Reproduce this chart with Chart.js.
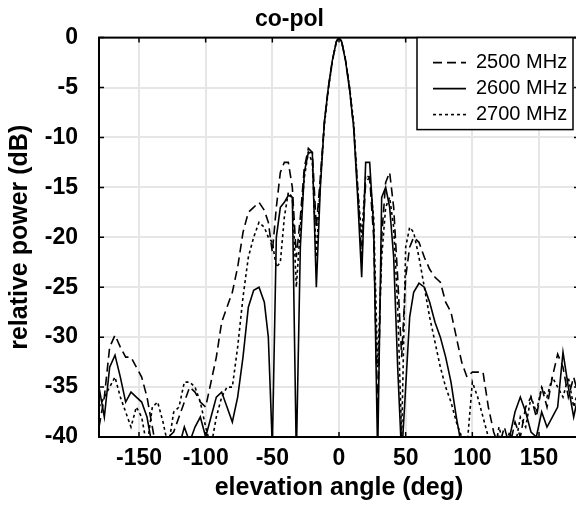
<!DOCTYPE html>
<html>
<head>
<meta charset="utf-8">
<script src="https://cdn.jsdelivr.net/npm/chart.js@4.4.0/dist/chart.umd.min.js"></script>
<style>
  html, body { margin: 0; padding: 0; background: #fff; overflow: hidden; width: 576px; height: 511px; }
  #wrap { width: 582px; height: 511px; }
</style>
</head>
<body>
<div id="wrap"><canvas id="c" width="582" height="511"></canvas></div>
<script>
// elevation angle (deg)
const angles = [-180,-176,-172,-168,-164,-160,-156,-152,-148,-144,-140,-136,-132,-128,-124,-120,-116,-112,-108,-104,-100,-96,-92,-88,-84,-80,-76,-72,-68,-64,-60,-56,
  -53,-50,-47,-44,-41,-38,-35,-32,-29,-26,-23,-20,-17,-14,-11,-8,-5,-2,
  0,
  2,5,8,11,14,17,20,23,26,29,32,35,38,41,44,47,50,53,
  56,60,64,68,72,76,80,84,88,92,96,100,104,108,112,116,120,124,128,132,136,140,144,148,152,156,160,164,168,172,176,180];

// relative power (dB)
const p2500 = [-39,-36,-31,-29.8,-31,-32,-32,-33,-34,-36,-39,-42,-41,-40,-39.5,-38,-36.5,-35,-35.5,-36.5,-37,-34.5,-32,-28.5,-27,-25.5,-23,-19.5,-17.5,-17,-16.5,-17.3,
  -18.5,-21.5,-17,-13.5,-12.5,-12.5,-15,-22,-18,-13,-11.1,-11.5,-19,-14,-8.5,-5,-2.3,-0.4,
  0,
  -0.4,-2.3,-5.2,-9,-15,-22,-14.5,-14,-20,-38,-20,-14.5,-13.5,-17,-24,-32,-24,-21,
  -20,-20.5,-22,-23.2,-24,-24.5,-26.5,-27.5,-30,-32.5,-34,-33.5,-33.5,-33.5,-37,-39.5,-41,-39,-41,-38.5,-40,-37,-36,-38,-35,-37,-34,-31.7,-33,-36,-34,-36];

const p2600 = [-35,-38,-33,-31.8,-34,-36.5,-35.5,-36,-36.5,-38,-41,-43,-44,-42,-43,-41,-39,-40.5,-39,-38,-40,-38,-36,-35.5,-37,-38.5,-36,-32,-27,-25.3,-25,-26.5,
  -30,-41,-20,-17,-16.5,-15.8,-16,-42,-21,-13.5,-11.5,-11.5,-25,-15,-8.5,-5,-2.3,-0.4,
  0,
  -0.4,-2.4,-5.3,-9,-16,-24,-12.5,-12.5,-19,-42,-16,-15,-17,-22,-33,-42,-35,-28,
  -25.5,-24.6,-25,-26.5,-28.5,-30,-32,-34.5,-38,-41,-42,-43,-42,-41,-43,-42,-40,-41.5,-40,-37.5,-36,-37.5,-39.5,-40,-37.5,-39,-38,-37,-31.5,-35,-38,-35.5];

const p2700 = [-37,-36,-35,-34,-36,-37.5,-39,-37,-38,-41,-37,-36.5,-38.5,-41,-37.5,-37,-34.5,-34.5,-35,-36.5,-39,-41,-38,-36,-35,-35,-31,-26,-22,-20,-18.5,-19,
  -20,-20.5,-23,-22.5,-18,-15.5,-16,-25,-19,-14,-11.5,-12.5,-22,-14.5,-8.8,-5.2,-2.4,-0.4,
  0,
  -0.4,-2.3,-5,-8.5,-15,-20,-13.8,-14,-18,-33,-22,-17,-16,-19,-27,-40,-21,-19,
  -19.5,-22,-25,-28,-30.5,-33,-35,-36.5,-38.5,-40,-41,-34.5,-36,-38,-40,-42,-39,-41,-39.5,-41,-38,-39,-36,-37.5,-35,-36,-34,-35,-36,-34,-37,-35];

const seriesNames = ['2500 MHz', '2600 MHz', '2700 MHz'];
const xTicks = [-150, -100, -50, 0, 50, 100, 150];
const yTicks = [0, -5, -10, -15, -20, -25, -30, -35, -40];

const FONT = "'Liberation Sans', Arial, sans-serif";
const dashes = [[9, 5], [], [3, 3]];
const allSeries = [p2500, p2600, p2700];

function toPoints(vals) {
  return angles.map((a, i) => ({ x: a, y: vals[i] }));
}

// frame, inward ticks and boxed legend
const framePlugin = {
  id: 'frame',
  afterDatasetsDraw(chart) {
    const { ctx, chartArea: a, scales: { x, y } } = chart;
    ctx.save();
    ctx.strokeStyle = '#000';
    ctx.lineWidth = 2;
    ctx.strokeRect(a.left, a.top, a.right - a.left, a.bottom - a.top);
    ctx.lineWidth = 1.5;
    ctx.beginPath();
    xTicks.forEach(v => {
      const px = x.getPixelForValue(v);
      ctx.moveTo(px, a.bottom); ctx.lineTo(px, a.bottom - 5);
      ctx.moveTo(px, a.top); ctx.lineTo(px, a.top + 5);
    });
    yTicks.forEach(v => {
      const py = y.getPixelForValue(v);
      ctx.moveTo(a.left, py); ctx.lineTo(a.left + 5, py);
      ctx.moveTo(a.right, py); ctx.lineTo(a.right - 5, py);
    });
    ctx.stroke();

    // legend box
    const bx = 417, by = a.top, bw = 156, bh = 92;
    ctx.fillStyle = '#fff';
    ctx.fillRect(bx, by, bw, bh);
    ctx.lineWidth = 1.5;
    ctx.strokeRect(bx, by, bw, bh);
    ctx.font = '20px ' + FONT;
    ctx.textBaseline = 'middle';
    ctx.fillStyle = '#000';
    seriesNames.forEach((name, i) => {
      const ry = by + 25 + i * 26;
      ctx.setLineDash(dashes[i]);
      ctx.lineWidth = 1.6;
      ctx.beginPath();
      ctx.moveTo(433, ry); ctx.lineTo(466, ry);
      ctx.stroke();
      ctx.setLineDash([]);
      ctx.fillText(name, 476, ry);
    });
    ctx.restore();
  }
};

new Chart(document.getElementById('c'), {
  type: 'line',
  data: {
    datasets: allSeries.map((vals, i) => ({
      label: seriesNames[i],
      data: toPoints(vals),
      borderColor: '#000',
      borderWidth: 1.6,
      borderDash: dashes[i],
      pointRadius: 0,
      tension: 0,
      fill: false
    }))
  },
  options: {
    responsive: false,
    devicePixelRatio: 1,
    animation: false,
    layout: { padding: { left: 0, right: 3, top: 0, bottom: 0 } },
    plugins: {
      legend: { display: false },
      tooltip: { enabled: false },
      title: {
        display: true,
        text: 'co-pol',
        color: '#000',
        font: { family: FONT, size: 23, weight: 'bold' },
        padding: { top: 6, bottom: 4 }
      }
    },
    scales: {
      x: {
        type: 'linear',
        min: -180,
        max: 180,
        afterBuildTicks: s => { s.ticks = xTicks.map(v => ({ value: v })); },
        afterFit: s => { s.height = 74; },
        grid: { color: '#e6e6e6', lineWidth: 2, drawTicks: false },
        border: { display: false },
        ticks: {
          color: '#000',
          padding: 8,
          maxRotation: 0,
          font: { family: FONT, size: 23, weight: 'bold' }
        },
        title: {
          display: true,
          text: 'elevation angle (deg)',
          color: '#000',
          font: { family: FONT, size: 25, weight: 'bold' },
          padding: { top: 0, bottom: 8 }
        }
      },
      y: {
        min: -40,
        max: 0,
        afterBuildTicks: s => { s.ticks = yTicks.map(v => ({ value: v })); },
        afterFit: s => { s.width = 99; },
        grid: { color: '#e6e6e6', lineWidth: 2, drawTicks: false },
        border: { display: false },
        ticks: {
          color: '#000',
          padding: 21,
          font: { family: FONT, size: 23, weight: 'bold' }
        },
        title: {
          display: true,
          text: 'relative power (dB)',
          color: '#000',
          font: { family: FONT, size: 25, weight: 'bold' },
          padding: { top: 5, bottom: 0 }
        }
      }
    }
  },
  plugins: [framePlugin]
});
</script>
</body>
</html>
